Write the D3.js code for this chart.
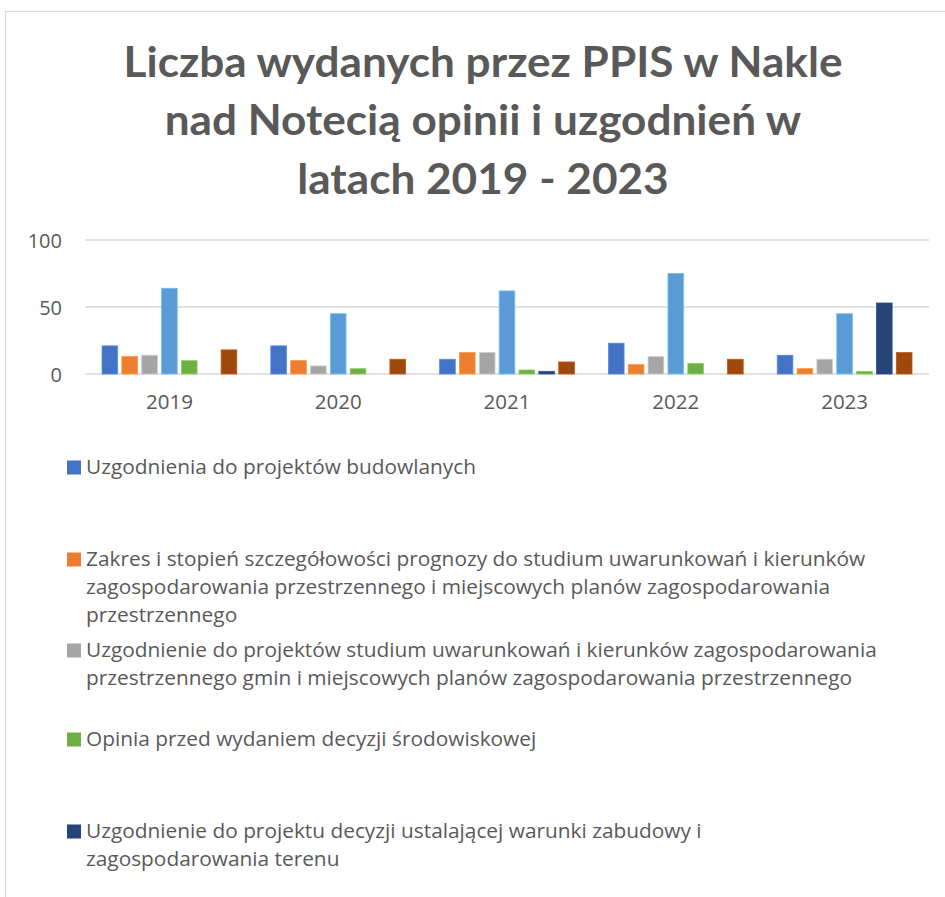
<!DOCTYPE html>
<html><head><meta charset="utf-8">
<script src="https://cdn.jsdelivr.net/npm/d3@7"></script>
<style>body{margin:0;background:#fff;overflow:hidden} svg{display:block}</style>
</head><body>
<script>
// ---------- DATA ----------
const years = ["2019", "2020", "2021", "2022", "2023"];
const yTicks = [0, 50, 100];
const titleLines = ["Liczba wydanych przez PPIS w Nakle", "nad Notecią opinii i uzgodnień w", "latach 2019 - 2023"];

const uzgBudowlane   = [21, 21, 11, 23, 14];
const zakresPrognozy = [13, 10, 16, 7, 4];
const uzgStudium     = [14, 6, 16, 13, 11];
const seria4         = [64, 45, 62, 75, 45];
const opiniaSrod     = [10, 4, 3, 8, 2];
const uzgWZ          = [0, 0, 2, 0, 53];
const seria7         = [18, 11, 9, 11, 16];

const seriesValues = [uzgBudowlane, zakresPrognozy, uzgStudium, seria4, opiniaSrod, uzgWZ, seria7];
const seriesColors = ["#4472C4", "#ED7D31", "#A5A5A5", "#5B9BD5", "#70AD47", "#264478", "#9E480E"];
// legend text lines (as wrapped in the original); null = entry not visible
const legendLabels = [
  ["Uzgodnienia do projektów budowlanych"],
  ["Zakres i stopień szczegółowości prognozy do studium uwarunkowań i kierunków",
   "zagospodarowania przestrzennego i miejscowych planów zagospodarowania",
   "przestrzennego"],
  ["Uzgodnienie do projektów studium uwarunkowań i kierunków zagospodarowania",
   "przestrzennego gmin i miejscowych planów zagospodarowania przestrzennego"],
  null,
  ["Opinia przed wydaniem decyzji środowiskowej"],
  ["Uzgodnienie do projektu decyzji ustalającej warunki zabudowy i",
   "zagospodarowania terenu"],
  null
];

// ---------- LAYOUT ----------
const W = 945, H = 897;
const textColor = "#595959", gridColor = "#d9d9d9";
const plot = {left: 85, right: 929, top: 240, bottom: 374};
const legendFirstBaselines = [474, 566, 657, null, 746, 838, null];
const legendLineH = 27.8;

const svg = d3.select("body").append("svg").attr("width", W).attr("height", H);

// chart frame
svg.append("rect").attr("x", 5.5).attr("y", 11.5).attr("width", W + 20).attr("height", H + 20)
  .attr("fill", "#fff").attr("stroke", gridColor).attr("stroke-width", 1.2);

// title
const titleG = svg.append("g");
const titleFont = "Lato, 'Open Sans', sans-serif";
const tl = titleG.selectAll("text").data(titleLines).join("text")
  .attr("x", 483).attr("y", (d, i) => 77 + i * 58.3)
  .attr("text-anchor", "middle")
  .attr("font-family", titleFont).attr("font-weight", 700).attr("font-size", 42)
  .attr("fill", textColor).text(d => d);
const t0 = tl.nodes()[0].getComputedTextLength();
const tScale = 719 / t0;
tl.each(function() { const w = this.getComputedTextLength(); d3.select(this).attr("textLength", w * tScale).attr("lengthAdjust", "spacingAndGlyphs"); });

// scales
const y = d3.scaleLinear().domain([0, 100]).range([plot.bottom, plot.top]);
const x0 = d3.scaleBand().domain(years).range([plot.left, plot.right]).padding(0);
const keys = d3.range(seriesValues.length);
const inset = 17;
const x1 = d3.scaleBand().domain(keys).range([inset, x0.bandwidth() - inset]).paddingInner(0.21).paddingOuter(0);

// gridlines
svg.append("g").selectAll("line").data(yTicks).join("line")
  .attr("x1", plot.left).attr("x2", plot.right)
  .attr("y1", d => y(d)).attr("y2", d => y(d))
  .attr("stroke", gridColor).attr("stroke-width", 1.4);

// y axis labels
const yAxis = svg.append("g").attr("transform", `translate(${62},0)`)
  .call(d3.axisLeft(y).tickValues(yTicks).tickSize(0).tickPadding(0));
yAxis.select(".domain").remove();
yAxis.selectAll("text").attr("font-family", "'Open Sans', sans-serif").attr("font-size", 20)
  .attr("fill", textColor).attr("dy", "0.36em");

// x axis labels
const xAxis = svg.append("g").attr("transform", `translate(0,${plot.bottom})`)
  .call(d3.axisBottom(x0).tickSize(0).tickPadding(0));
xAxis.select(".domain").remove();
xAxis.selectAll("text").attr("font-family", "'Open Sans', sans-serif").attr("font-size", 20.5)
  .attr("fill", textColor).attr("dy", "35px");

// bars
const groups = svg.append("g").selectAll("g").data(years).join("g")
  .attr("transform", d => `translate(${x0(d)},0)`);
groups.selectAll("rect").data((yr, yi) => keys.map(k => ({k, v: seriesValues[k][yi]})))
  .join("rect")
  .filter(d => d.v > 0)
  .attr("x", d => x1(d.k)).attr("width", x1.bandwidth())
  .attr("y", d => y(d.v)).attr("height", d => y(0) - y(d.v))
  .attr("fill", d => seriesColors[d.k])
  .attr("stroke", d => d3.color(seriesColors[d.k]).brighter(0.6))
  .attr("stroke-width", 0.8);

// legend
const legendFont = "'Open Sans', sans-serif";
const lg = svg.append("g");
let legScale = null;
keys.forEach(k => {
  if (!legendLabels[k]) return;
  const by = legendFirstBaselines[k];
  lg.append("rect").attr("x", 67).attr("y", by - 13.5).attr("width", 14).attr("height", 14)
    .attr("fill", seriesColors[k]);
  legendLabels[k].forEach((line, li) => {
    const t = lg.append("text").attr("x", 86).attr("y", by + li * legendLineH)
      .attr("font-family", legendFont).attr("font-size", 19.6).attr("fill", textColor).text(line);
    if (legScale === null) legScale = 390 / t.node().getComputedTextLength();
    const w = t.node().getComputedTextLength();
    t.attr("textLength", w * legScale).attr("lengthAdjust", "spacingAndGlyphs");
  });
});
</script>
</body></html>
